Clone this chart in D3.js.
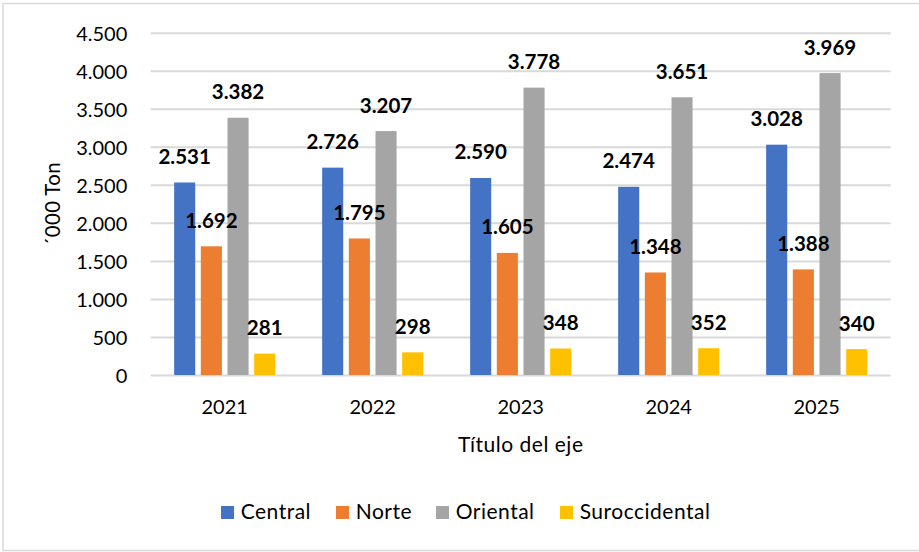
<!DOCTYPE html>
<html>
<head>
<meta charset="utf-8">
<script src="https://cdn.jsdelivr.net/npm/d3@7"></script>
<style>
  html, body { margin: 0; padding: 0; background: #fff; }
  svg { display: block; font-family: Lato, "Open Sans", sans-serif; }
</style>
</head>
<body>
<svg id="chart" width="919" height="552"></svg>
<script>
const years = ["2021", "2022", "2023", "2024", "2025"];
const seriesNames = ["Central", "Norte", "Oriental", "Suroccidental"];
const central = [2531, 2726, 2590, 2474, 3028];
const norte = [1692, 1795, 1605, 1348, 1388];
const oriental = [3382, 3207, 3778, 3651, 3969];
const suroccidental = [281, 298, 348, 352, 340];
const yTicks = [0, 500, 1000, 1500, 2000, 2500, 3000, 3500, 4000, 4500];
const colors = ["#4472C4", "#ED7D31", "#A5A5A5", "#FFC000"];
const yTitle = "´000 Ton";
const xTitle = "Título del eje";

const seriesValues = [central, norte, oriental, suroccidental];
const data = years.map((y, i) => ({
  year: y,
  values: seriesNames.map((s, j) => ({ key: s, value: seriesValues[j][i], color: colors[j] }))
}));

const locale = d3.formatLocale({ decimal: ",", thousands: ".", grouping: [3], currency: ["", ""] });
const fmt = locale.format(",d");

const svg = d3.select("#chart");

// chart border
svg.append("rect")
  .attr("x", 3).attr("y", 3.5).attr("width", 917).attr("height", 547)
  .attr("fill", "none").attr("stroke", "#D9D9D9").attr("stroke-width", 1.5);

const plot = { left: 150.7, right: 890.7, top: 32.7, bottom: 375 };

const x0 = d3.scaleBand().domain(years).range([plot.left, plot.right]).paddingInner(0).paddingOuter(0);
const groupInner = 106.7;
const x1 = d3.scaleBand().domain(seriesNames)
  .range([x0.bandwidth() / 2 - groupInner / 2, x0.bandwidth() / 2 + groupInner / 2])
  .paddingInner(0.21).paddingOuter(0.105);
const y = d3.scaleLinear().domain([0, 4500]).range([plot.bottom, plot.top]);

// gridlines
const yAxis = d3.axisLeft(y).tickValues(yTicks).tickSize(-(plot.right - plot.left)).tickFormat(fmt).tickPadding(23.4);
const gy = svg.append("g").attr("transform", `translate(${plot.left},0)`).call(yAxis);
gy.select(".domain").remove();
gy.selectAll(".tick line").attr("stroke", "#D9D9D9").attr("stroke-width", 2);
gy.selectAll(".tick text")
  .attr("font-family", "Lato, sans-serif")
  .attr("font-size", 20).attr("fill", "#000")
  .attr("dy", null).attr("dominant-baseline", "auto")
  .attr("y", 7.3);

// bars
const groups = svg.append("g").selectAll("g").data(data).join("g")
  .attr("transform", d => `translate(${x0(d.year)},0)`);
groups.selectAll("rect").data(d => d.values).join("rect")
  .attr("x", d => x1(d.key))
  .attr("y", d => y(d.value))
  .attr("width", x1.bandwidth())
  .attr("height", d => y(0) - y(d.value))
  .attr("fill", d => d.color);

// value labels
groups.selectAll("text.val").data(d => d.values).join("text")
  .attr("class", "val")
  .attr("x", d => x1(d.key) + x1.bandwidth() / 2)
  .attr("y", d => y(d.value) - 18.5)
  .attr("text-anchor", "middle")
  .attr("font-size", 20.5).attr("font-weight", "bold").attr("fill", "#000")
  .text(d => fmt(d.value));

// x axis labels
const xAxis = d3.axisBottom(x0).tickSize(0).tickPadding(0);
const gx = svg.append("g").attr("transform", `translate(0,${plot.bottom})`).call(xAxis);
gx.select(".domain").remove();
gx.selectAll(".tick text")
  .attr("font-family", "Lato, sans-serif")
  .attr("font-size", 20).attr("fill", "#000")
  .attr("dy", null).attr("y", 38.5);

// axis titles
svg.append("text")
  .attr("x", (plot.left + plot.right) / 2).attr("y", 451.5)
  .attr("text-anchor", "middle").attr("font-size", 21).attr("letter-spacing", 0.5).attr("fill", "#000")
  .text(xTitle);

svg.append("text")
  .attr("transform", `translate(59.5,${(plot.top + plot.bottom) / 2}) rotate(-90)`)
  .attr("text-anchor", "middle").attr("font-size", 20.5).attr("letter-spacing", 0.3).attr("fill", "#000")
  .text(yTitle);

// legend
const legendX = [221, 336, 436, 560];
const legend = svg.append("g").selectAll("g").data(seriesNames).join("g")
  .attr("transform", (d, i) => `translate(${legendX[i]},506)`);
legend.append("rect").attr("width", 13).attr("height", 13).attr("fill", (d, i) => colors[i]);
legend.append("text").attr("x", 19.7).attr("y", 13.3)
  .attr("font-size", 21).attr("letter-spacing", 0.5).attr("fill", "#000").text(d => d);
</script>
</body>
</html>
